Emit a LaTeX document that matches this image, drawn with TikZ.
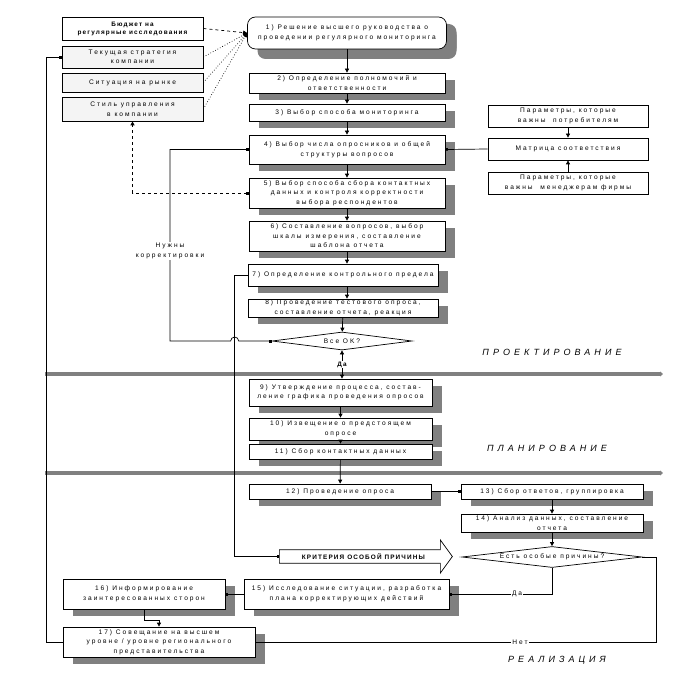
\documentclass[tikz,border=0pt]{standalone}
\usepackage{fontspec}
\setmainfont{Liberation Sans}[LetterSpace=30]
\newfontfamily\phasefont{Liberation Sans}[LetterSpace=45]
\newfontfamily\headfont{Liberation Sans}[LetterSpace=18]
\definecolor{shadowgray}{HTML}{808080}
\definecolor{lightgray}{HTML}{F4F4F4}
\usetikzlibrary{arrows.meta,positioning,calc,shapes.geometric,shapes.arrows,shadows}

\begin{document}
\begin{tikzpicture}[
    x=1pt,y=-1pt,line width=0.7pt,
    font=\fontsize{6.6}{9.5}\selectfont,
    box/.style={draw,fill=white,align=center,inner sep=1pt,
                drop shadow={shadow xshift=10pt,shadow yshift=-7pt,fill=shadowgray,opacity=1}},
    src/.style={draw,fill=lightgray,align=center,inner sep=1pt,minimum width=141pt},
    param/.style={draw,fill=white,align=center,inner sep=1pt,minimum width=160pt,minimum height=22pt},
    decide/.style={diamond,draw,fill=white,inner sep=0pt},
    arr/.style={-{Triangle[length=4pt,width=4pt]}},
    sq/.style={-{Square[length=2.5pt,width=2.5pt]}},
    lbl/.style={fill=white,inner sep=1pt,align=center},
    bold/.style={font=\headfont\fontsize{6.4}{8}\selectfont\bfseries},
    phase/.style={font=\phasefont\fontsize{9}{11}\selectfont\itshape},
    bar/.style={line width=4.5pt,shadowgray,-{Triangle[length=3pt,width=5pt]}}
  ]
    \useasboundingbox (0,0) rectangle (685,687);

    \draw[bar] (45,374) -- (663,374);
    \draw[bar] (45,473) -- (663,473);

    \node[src,bold,minimum height=23pt,fill=white] (budget) at (132.5,28.5) {Бюджет на\\регулярные исследования};
    \node[src,minimum height=22pt] (strategy) at (132.5,57) {Текущая стратегия\\компании};
    \node[src,minimum height=19pt] (market) at (132.5,82.5) {Ситуация на рынке};
    \node[src,minimum height=24pt] (style) at (132.5,109) {Стиль управления\\в компании};

    \node[box,rounded corners=8pt,minimum width=199pt,minimum height=32pt,
          drop shadow={shadow xshift=10pt,shadow yshift=-10pt,fill=shadowgray,opacity=1}] (s1) at (347,33)
      {1) Решение высшего руководства о\\проведении регулярного мониторинга};
    \node[box,minimum width=196pt,minimum height=20pt] (s2) at (347,83) {2) Определение полномочий и\\ответственности};
    \node[box,minimum width=196pt,minimum height=17pt] (s3) at (347,112.5) {3) Выбор способа мониторинга};
    \node[box,minimum width=196pt,minimum height=29pt] (s4) at (347,149.5) {4) Выбор числа опросников и общей\\структуры вопросов};
    \node[box,minimum width=196pt,minimum height=30pt] (s5) at (347,193) {5) Выбор способа сбора контактных\\данных и контроля корректности\\выбора респондентов};
    \node[box,minimum width=196pt,minimum height=30pt] (s6) at (347,236) {6) Составление вопросов, выбор\\шкалы измерения, составление\\шаблона отчета};
    \node[box,minimum width=190pt,minimum height=22pt] (s7) at (343,275) {7) Определение контрольного предела};
    \node[box,minimum width=190pt,minimum height=18pt] (s8) at (343,308) {8) Проведение тестового опроса,\\составление отчета, реакция};
    \node[decide,minimum width=140pt,minimum height=18pt,aspect=7.8] (ok) at (342,341) {Все OK?};

    \node[box,minimum width=183pt,minimum height=27pt] (s9) at (340.5,392.5) {9) Утверждение процесса, состав-\\ление графика проведения опросов};
    \node[box,minimum width=183pt,minimum height=22pt] (s10) at (340.5,429) {10) Извещение о предстоящем\\опросе};
    \node[box,minimum width=183pt,minimum height=15pt] (s11) at (340.5,451.5) {11) Сбор контактных данных};

    \node[box,minimum width=182pt,minimum height=15pt] (s12) at (340,491.5) {12) Проведение опроса};
    \node[box,minimum width=182pt,minimum height=15pt] (s13) at (552,491.5) {13) Сбор ответов, группировка};
    \node[box,minimum width=182pt,minimum height=18pt] (s14) at (552,523) {14) Анализ данных, составление\\отчета};
    \node[single arrow,draw,fill=white,anchor=tail,inner ysep=3pt,minimum height=173pt,minimum width=33pt,
          single arrow head extend=9pt,single arrow tip angle=108,bold]
      (crit) at (279,556.5) {КРИТЕРИЯ ОСОБОЙ ПРИЧИНЫ};
    \node[decide,minimum width=180pt,minimum height=21pt,aspect=8.6] (d2) at (552,557) {Есть особые причины?};
    \node[box,minimum width=205pt,minimum height=30pt] (s15) at (346.5,594) {15) Исследование ситуации, разработка\\плана корректирующих действий};
    \node[box,minimum width=162pt,minimum height=30pt] (s16) at (144,594) {16) Информирование\\заинтересованных сторон};
    \node[box,minimum width=192pt,minimum height=30pt] (s17) at (159,642) {17) Совещание на высшем\\уровне / уровне регионального\\представительства};

    \node[param] (wants) at (568,116) {Параметры, которые\\важны~~потребителям};
    \node[param] (matrix) at (568,149) {Матрица соответствия};
    \node[param] (mgmt) at (568,183) {Параметры, которые\\важны~~менеджерам фирмы};

    \node[phase] (design) at (552,352) {ПРОЕКТИРОВАНИЕ};
    \node[phase] (planning) at (547,448) {ПЛАНИРОВАНИЕ};
    \node[phase] (realize) at (557,660) {РЕАЛИЗАЦИЯ};

    \coordinate (c7) at ($(s7.west)+(-13,0)$);
    \coordinate (loopx) at (170,0);

    \draw[arr,dashed] (budget.east) -- (s1.west);
    \draw[arr,dotted] (strategy.east) -- (s1.west);
    \draw[arr,dotted] (market.east) -- (s1.west);
    \draw[arr,dotted] (style.east) -- (s1.west);

    \draw[arr] (s1) -- (s2);
    \draw[arr] (s2) -- (s3);
    \draw[arr] (s3) -- (s4);
    \draw[arr] (s4) -- (s5);
    \draw[arr] (s5) -- (s6);
    \draw[arr] (s6) -- (s6 |- s7.north);
    \draw[arr] (s7.south -| s6) -- (s6 |- s8.north);
    \draw[arr] (s8) -- (ok);
    \draw[{Triangle[length=4pt,width=4pt]}-{Triangle[length=4pt,width=4pt]}] (ok) -- node[lbl,bold]{Да} (ok |- s9.north);
    \draw[arr] (s9) -- (s10);
    \draw[arr] (s10) -- (s11);
    \draw[arr] (s11) -- (s12);
    \draw[sq] (s12.east) -- (s13.west);
    \draw[arr] (s13) -- (s14);
    \draw[arr] (s14) -- (d2);

    \draw[{Square[length=2.5pt,width=2.5pt]}-] (s4.east) -- (matrix.west);
    \draw[arr] (wants) -- (matrix);
    \draw[arr] (mgmt) -- (matrix);

    \draw[{Square[length=2.5pt,width=2.5pt]}-{Square[length=2.5pt,width=2.5pt]}] (ok.west)
      -- ([xshift=4pt]c7 |- ok.west) arc[start angle=0,end angle=-180,radius=4]
      -- (loopx |- ok.west) -- node[lbl,pos=.47]{Нужны\\корректировки} (loopx |- s4.west) -- (s4.west);
    \draw[dashed,{Square[length=2.5pt,width=2.5pt]}-{Triangle[length=4pt,width=4pt]}] (s5.west) -| (style.south);
    \draw[sq] (s7.west) -- (c7) |- (crit.tail);
    \draw[sq] (s17.west) -- ++(-16,0) |- (strategy.west);

    \draw[sq] (d2.south) |- node[lbl,pos=.67]{Да} (s15.east);
    \draw (d2.east) -- ++(14,0) |- node[lbl,pos=.67]{Нет} (s17.east);
    \draw[sq] (s15.west) -- (s16.east);
    \draw[arr] (s16.south) -- ++(0,11) -| (s17.north);
  \end{tikzpicture}
\end{document}
